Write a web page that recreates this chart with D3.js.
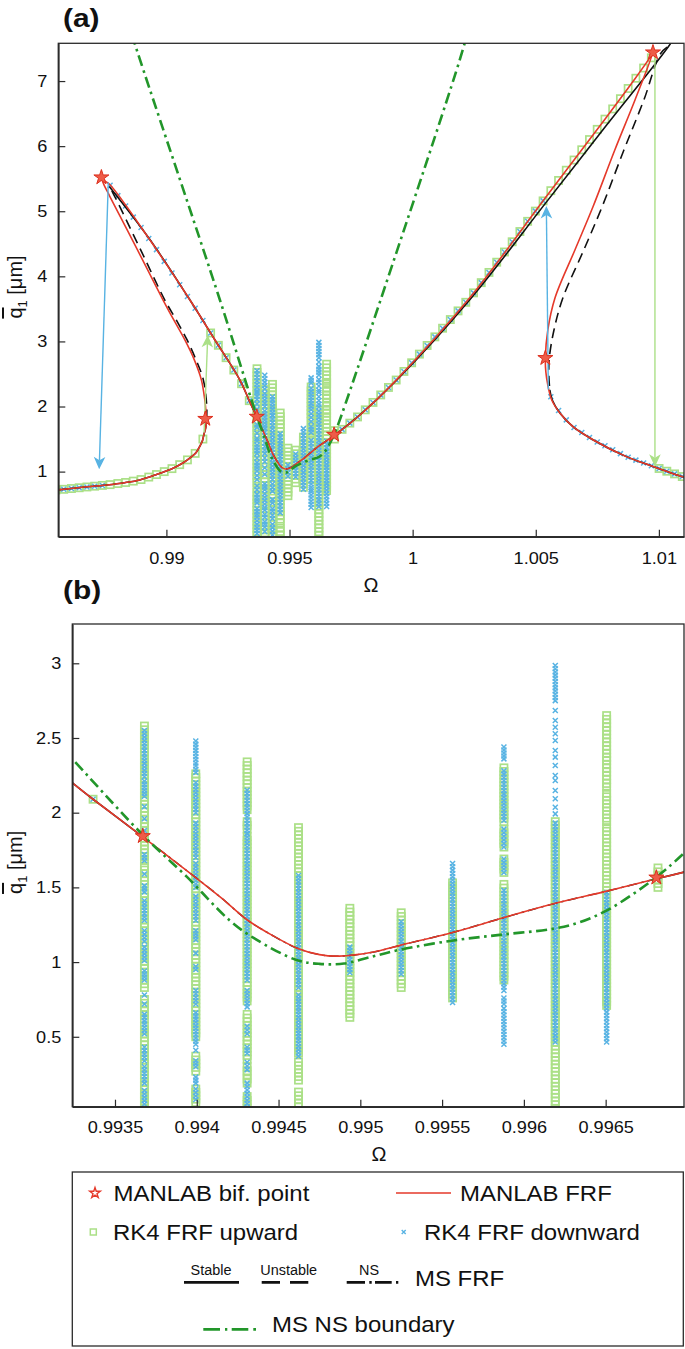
<!DOCTYPE html>
<html><head><meta charset="utf-8">
<script src="https://cdn.jsdelivr.net/npm/d3@7"></script>
<style>
body{margin:0;background:#fff}
svg{display:block}
text{font-family:"Liberation Sans",Arial,Helvetica,sans-serif;fill:#111}
</style>
</head><body>
<svg id="c" width="685" height="1349"></svg>
<script>
// ---------------- DATA ----------------
// tick labels
const xTicksA = [0.99, 0.995, 1, 1.005, 1.01];
const yTicksA = [1, 2, 3, 4, 5, 6, 7];
const xTicksB = [0.9935, 0.994, 0.9945, 0.995, 0.9955, 0.996, 0.9965];
const yTicksB = [0.5, 1, 1.5, 2, 2.5, 3];

// MANLAB FRF (continuation path, [Omega, q1])
const manlabFRF = [[0.98556,0.718],[0.98650,0.755],[0.98757,0.795],[0.98830,0.830],[0.98892,0.872],[0.98960,0.955],[0.99027,1.052],[0.99070,1.14],[0.99095,1.206],[0.99120,1.29],[0.99135,1.385],[0.99146,1.47],[0.99152,1.565],[0.99160,1.68],[0.99163,1.795],[0.99160,1.95],[0.99156,2.10],[0.99142,2.41],[0.99113,2.72],[0.99074,3.03],[0.99030,3.33],[0.98986,3.64],[0.98882,4.41],[0.98770,5.23],[0.98745,5.42],[0.98736,5.52],[0.98748,5.47],[0.98770,5.41],[0.98932,4.565],[0.99095,3.64],[0.99196,3.03],[0.99298,2.41],[0.99336,2.095],[0.99366,1.846],[0.99399,1.569],[0.99415,1.43],[0.994305,1.285],[0.99446,1.18],[0.99461,1.095],[0.99475,1.05],[0.99487,1.04],[0.99508,1.067],[0.995243,1.112],[0.99557,1.2],[0.995875,1.297],[0.996181,1.39],[0.996508,1.475],[0.99681,1.558],[0.99698,1.602],[0.99786,1.87],[0.99934,2.41],[1.00232,3.67],[1.00543,5.225],[1.00787,6.445],[1.00900,7.02],[1.00960,7.34],[1.00976,7.44],[1.00903,6.709],[1.00821,5.941],[1.00732,5.065],[1.00659,4.405],[1.00578,3.667],[1.00549,3.176],[1.00539,2.745],[1.00541,2.53],[1.00549,2.33],[1.00565,2.10],[1.00598,1.90],[1.00651,1.69],[1.00732,1.49],[1.00868,1.23],[1.00976,1.08],[1.01098,0.92],[1.0112,0.90]];

// MANLAB bifurcation points
const bifPoints = [[0.98736,5.52],[0.99158,1.81],[0.99367,1.843],[0.99681,1.566],[1.00539,2.745],[1.00976,7.44]];

// MS FRF branches
const msStableLowLeft = [[0.98556,0.718],[0.98650,0.755],[0.98757,0.795],[0.98830,0.830],[0.98892,0.872],[0.98960,0.955],[0.99027,1.052],[0.99070,1.14],[0.99095,1.206],[0.99120,1.29],[0.99135,1.385],[0.99146,1.47],[0.99152,1.565],[0.99160,1.68],[0.99163,1.80]];
const msUnstableLeft = [[0.99163,1.80],[0.99164,2.0],[0.99150,2.41],[0.99120,2.72],[0.99083,3.03],[0.99040,3.33],[0.98993,3.64],[0.98895,4.41],[0.98783,5.28],[0.98768,5.38]];
const msStableUpLeft = [[0.98768,5.38],[0.98932,4.57],[0.99095,3.64],[0.99196,3.03],[0.99298,2.41],[0.99336,2.095],[0.99366,1.846]];
const msNS = [[0.99366,1.846],[0.99399,1.569],[0.99415,1.43],[0.994305,1.285],[0.99446,1.18],[0.99461,1.095],[0.99475,1.05],[0.99487,1.04],[0.99508,1.067],[0.995243,1.112],[0.99557,1.2],[0.995875,1.297],[0.996181,1.39],[0.996508,1.475],[0.99681,1.558]];
const msStableUpRight = [[0.99681,1.558],[0.99698,1.602],[0.99786,1.87],[0.99934,2.40],[1.00232,3.64],[1.00543,5.14],[1.00787,6.32],[1.01048,7.58],[1.01068,7.72]];
const msUnstableRight = [[1.01068,7.72],[1.01053,7.585],[1.01008,7.427],[1.00939,6.709],[1.00858,5.941],[1.00769,5.065],[1.00695,4.405],[1.00610,3.667],[1.00574,3.176],[1.00555,2.745],[1.00553,2.484],[1.00557,2.254]];
const msStableLowRight = [[1.00557,2.254],[1.00567,2.10],[1.00598,1.90],[1.00651,1.69],[1.00732,1.49],[1.00868,1.23],[1.00976,1.08],[1.01098,0.92],[1.0112,0.90]];

// MS NS boundary
const msNSBoundary = [[0.98860,7.72],[0.98871,7.58],[0.99217,3.64],[0.993239,2.36],[0.99368,1.84],[0.99394,1.57],[0.99420,1.28],[0.99435,1.16],[0.99461,1.014],[0.99475,0.988],[0.99490,0.990],[0.99505,1.03],[0.995243,1.083],[0.99557,1.145],[0.995875,1.185],[0.996181,1.223],[0.996345,1.268],[0.996508,1.346],[0.99667,1.457],[0.99681,1.569],[0.99698,1.73],[0.9987,3.64],[1.00211,7.58],[1.00218,7.72]];

// RK4 upward sweep (periodic points)
const rk4UpLowLeft = [[0.985516,0.717],[0.98583,0.728],[0.986144,0.740],[0.986458,0.752],[0.986772,0.764],[0.987086,0.776],[0.9874,0.788],[0.987714,0.800],[0.988028,0.817],[0.988342,0.833],[0.988656,0.854],[0.98897,0.878],[0.989284,0.916],[0.989598,0.955],[0.989912,1.000],[0.990226,1.046],[0.99054,1.107],[0.990854,1.180],[0.991168,1.280],[0.991482,1.500]];
const rk4UpUpperLeft = [[0.991796,3.13],[0.99211,2.94],[0.992424,2.75],[0.992738,2.56],[0.993052,2.35],[0.993366,2.09]];
const rk4UpUpperRight = [[0.997134,1.649],[0.997448,1.745],[0.997762,1.840],[0.998076,1.949],[0.99839,2.063],[0.998704,2.178],[0.999018,2.293],[0.999332,2.407],[0.999646,2.539],[0.99996,2.672],[1.000274,2.805],[1.000588,2.938],[1.000902,3.070],[1.001216,3.203],[1.00153,3.336],[1.001844,3.469],[1.002158,3.601],[1.002472,3.746],[1.002786,3.903],[1.0031,4.060],[1.003414,4.217],[1.003728,4.374],[1.004042,4.531],[1.004356,4.688],[1.00467,4.845],[1.004984,5.002],[1.005298,5.159],[1.005612,5.316],[1.005926,5.473],[1.00624,5.630],[1.006554,5.787],[1.006868,5.944],[1.007182,6.101],[1.007496,6.258],[1.00781,6.415],[1.008124,6.572],[1.008438,6.729],[1.008752,6.886],[1.009066,7.043],[1.00938,7.200],[1.009694,7.357]];
const rk4UpLowRight = [[1.010008,1.048],[1.010322,1.006],[1.010636,0.965],[1.01095,0.924]];

// RK4 downward sweep (periodic points)
const rk4DownLowRight = [[1.01095,0.924],[1.010636,0.965],[1.010322,1.006],[1.010008,1.048],[1.009694,1.089],[1.00938,1.133],[1.009066,1.176],[1.008752,1.220],[1.008438,1.276],[1.008124,1.336],[1.00781,1.396],[1.007496,1.456],[1.007182,1.524],[1.006868,1.602],[1.006554,1.679],[1.00624,1.795],[1.005926,1.939],[1.005612,2.150]];
const rk4DownUpperRight = [[1.005298,5.159],[1.004984,5.002],[1.00467,4.845],[1.004356,4.688],[1.004042,4.531],[1.003728,4.374],[1.003414,4.217],[1.0031,4.060],[1.002786,3.903],[1.002472,3.746],[1.002158,3.601],[1.001844,3.469],[1.00153,3.336],[1.001216,3.203],[1.000902,3.070],[1.000588,2.938],[1.000274,2.805],[0.99996,2.672],[0.999646,2.539],[0.999332,2.407],[0.999018,2.293],[0.998704,2.178],[0.99839,2.063],[0.998076,1.949],[0.997762,1.840],[0.997448,1.745],[0.997134,1.649]];
const rk4DownUpperLeft = [[0.993366,2.09],[0.993052,2.35],[0.992738,2.56],[0.992424,2.75],[0.99211,2.94],[0.991796,3.13],[0.991482,3.32],[0.991168,3.51],[0.990854,3.69],[0.99054,3.87],[0.990226,4.05],[0.989912,4.23],[0.989598,4.41],[0.989284,4.58],[0.98897,4.75],[0.988656,4.91],[0.988342,5.08],[0.988028,5.24],[0.987714,5.40]];
const rk4DownLowLeft = [[0.9874,0.788],[0.987086,0.776],[0.986772,0.764],[0.986458,0.752],[0.986144,0.740],[0.98583,0.728],[0.985516,0.717]];

// RK4 quasi-periodic (NS) region: [Omega, q low, q high] ranges of sampled amplitudes
const rk4UpBands = [
  [0.99368,1.68,2.58],[0.99368,1.52,1.64],[0.99368,0.83,1.46],[0.99368,0.62,0.75],[0.99368,0.02,0.57],
  [0.993994,0.50,2.26],[0.993994,0.27,0.37],[0.993994,0.06,0.15],
  [0.994308,2.02,2.34],[0.994308,1.89,1.94],[0.994308,0.74,1.84],[0.994308,0.35,0.65],[0.994308,0.19,0.30],[0.994308,0.02,0.10],
  [0.994622,0.81,1.90],[0.994622,0.39,0.78],[0.994622,0.21,0.33],[0.994622,0.03,0.13],
  [0.994936,0.63,1.36],
  [0.99525,0.83,1.33],
  [0.995564,0.76,1.53],
  [0.995878,1.94,2.30],[0.995878,1.77,1.89],[0.995878,1.60,1.69],[0.995878,0.88,1.52],
  [0.996192,0.02,1.94],
  [0.996506,2.37,2.65],[0.996506,2.17,2.35],[0.996506,1.94,2.13],[0.996506,0.71,1.90],
  [0.99682,1.50,1.63]
];
const rk4DownBands = [
  [0.99368,2.24,2.55],[0.99368,2.11,2.21],[0.99368,2.04,2.04],[0.99368,1.96,1.96],[0.99368,1.88,1.88],[0.99368,1.68,1.72],[0.99368,1.59,1.59],[0.99368,1.47,1.51],[0.99368,1.28,1.41],[0.99368,1.14,1.21],[0.99368,1.01,1.10],[0.99368,0.88,0.94],[0.99368,0.78,0.78],[0.99368,0.72,0.72],[0.99368,0.52,0.65],[0.99368,0.34,0.43],[0.99368,0.19,0.30],[0.99368,0.05,0.14],
  [0.993994,2.27,2.48],[0.993994,2.00,2.20],[0.993994,1.70,1.93],[0.993994,1.50,1.66],[0.993994,1.28,1.44],[0.993994,1.15,1.21],[0.993994,1.06,1.06],[0.993994,0.95,0.97],[0.993994,0.72,0.81],[0.993994,0.45,0.66],[0.993994,0.41,0.41],[0.993994,0.30,0.34],[0.993994,0.19,0.23],[0.993994,0.08,0.15],
  [0.994308,1.86,2.15],[0.994308,0.88,1.86],[0.994308,0.70,0.81],[0.994308,0.52,0.57],[0.994308,0.39,0.43],[0.994308,0.28,0.33],[0.994308,0.03,0.19],
  [0.994622,0.83,1.58],[0.994622,0.37,0.78],
  [0.994936,0.93,1.10],
  [0.99525,0.92,1.27],
  [0.995564,0.73,1.66],
  [0.995878,2.36,2.44],[0.995878,1.95,2.28],[0.995878,1.77,1.89],[0.995878,1.60,1.69],[0.995878,0.81,1.48],[0.995878,0.72,0.76],[0.995878,0.45,0.69],
  [0.996192,2.75,2.985],[0.996192,2.684,2.684],[0.996192,2.617,2.617],[0.996192,2.572,2.572],[0.996192,2.528,2.528],[0.996192,2.483,2.483],[0.996192,2.416,2.416],[0.996192,2.372,2.372],[0.996192,2.316,2.316],[0.996192,2.249,2.249],[0.996192,2.216,2.216],[0.996192,2.149,2.149],[0.996192,2.093,2.093],[0.996192,2.037,2.037],[0.996192,1.992,1.992],[0.996192,0.465,1.93],
  [0.996506,0.465,1.465],
  [0.99682,1.565,1.565]
];

// jump arrows [Omega start, q start, Omega tip, q tip]
const blueArrows = [[0.98764,5.44,0.98727,1.035],[1.00551,2.26,1.00543,5.08]];
const greenArrows = [[0.99153,1.60,0.99168,3.10],[1.00984,7.40,1.00984,1.075]];

// ---------------- STYLE ----------------
const C = {
  red: "#e5392a", black: "#111111", nsGreen: "#22962a",
  sq: "#abe087", x: "#58b3e3", axis: "#2b2b2b"
};
const SX = 1.1;
const svg = d3.select("#c");
const defs = svg.append("defs");

function stretchText(sel, sx) {
  sel.each(function () {
    const t = d3.select(this);
    const x = +t.attr("x") || 0;
    t.attr("x", 0).attr("transform", `translate(${x},0) scale(${sx},1)`);
  });
}

function drawPanel(cfg) {
  const { id, x, y, xt, yt, xfmt, xpad } = cfg;
  const [x0, x1] = x.range(); const [y0, y1] = y.range();
  defs.append("clipPath").attr("id", "clip" + id)
    .append("rect").attr("x", x0).attr("y", y1).attr("width", x1 - x0).attr("height", y0 - y1);
  const g = svg.append("g").attr("clip-path", `url(#clip${id})`);

  const bandPts = (bands, step) => {
    const out = [];
    bands.forEach(b => {
      const px = x(b[0]), yt0 = y(b[2]), yb0 = y(b[1]);
      const n = Math.round((yb0 - yt0) / step);
      if (n <= 0) { out.push([px, (yt0 + yb0) / 2]); return; }
      for (let i = 0; i <= n; i++) out.push([px, yt0 + i * (yb0 - yt0) / n]);
    });
    return out;
  };

  // green squares (upward sweep)
  const sqPts = [];
  [rk4UpLowLeft, rk4UpUpperLeft, rk4UpUpperRight, rk4UpLowRight].forEach(a => a.forEach(d => sqPts.push([x(d[0]), y(d[1])])));
  bandPts(rk4UpBands, 3.7).forEach(p => sqPts.push(p));
  g.append("g").selectAll("rect").data(sqPts).join("rect")
    .attr("x", d => d[0] - 3.6).attr("y", d => d[1] - 3.6).attr("width", 7.2).attr("height", 7.2)
    .attr("fill", "none").attr("stroke", C.sq).attr("stroke-width", 1.7);

  // blue crosses (downward sweep)
  const xPts = [];
  [rk4DownLowRight, rk4DownUpperRight, rk4DownUpperLeft, rk4DownLowLeft].forEach(a => a.forEach(d => xPts.push([x(d[0]), y(d[1])])));
  bandPts(rk4DownBands, 3.3).forEach(p => xPts.push(p));
  const h = 2.5;
  g.append("g").selectAll("path").data(xPts).join("path")
    .attr("d", d => `M${d[0] - h},${d[1] - h}L${d[0] + h},${d[1] + h}M${d[0] - h},${d[1] + h}L${d[0] + h},${d[1] - h}`)
    .attr("stroke", C.x).attr("stroke-width", 1.5).attr("fill", "none");

  const line = d3.line().x(d => x(d[0])).y(d => y(d[1])).curve(d3.curveCatmullRom.alpha(0.5));
  const addLine = (data, color, w, dash) => g.append("path").datum(data).attr("d", line)
    .attr("fill", "none").attr("stroke", color).attr("stroke-width", w)
    .attr("stroke-dasharray", dash || null).attr("stroke-linejoin", "round");

  // MS FRF (black)
  [msStableLowLeft, msStableUpLeft, msStableUpRight, msStableLowRight].forEach(d => addLine(d, C.black, 1.6));
  [msUnstableLeft, msUnstableRight].forEach(d => addLine(d, C.black, 1.6, "10,6"));
  addLine(msNS, C.black, 1.4, "10,4,2.5,4");
  // MANLAB FRF (red)
  addLine(manlabFRF, C.red, 1.6);
  // MS NS boundary (green dash-dot)
  addLine(msNSBoundary, C.nsGreen, 2.6, "11,4.5,2.6,4.5");

  // arrows
  const arrow = (a, color) => {
    const ax1 = x(a[0]), ay1 = y(a[1]), ax2 = x(a[2]), ay2 = y(a[3]);
    const dx = ax2 - ax1, dy = ay2 - ay1, L = Math.hypot(dx, dy), ux = dx / L, uy = dy / L, nx = -uy, ny = ux;
    const hl = 12.5, hw = 5.8, notch = 3.5;
    g.append("line").attr("x1", ax1).attr("y1", ay1).attr("x2", ax2 - ux * (hl - notch)).attr("y2", ay2 - uy * (hl - notch))
      .attr("stroke", color).attr("stroke-width", 1.4);
    g.append("path").attr("d", `M${ax2},${ay2}L${ax2 - ux * hl + nx * hw},${ay2 - uy * hl + ny * hw}L${ax2 - ux * (hl - notch)},${ay2 - uy * (hl - notch)}L${ax2 - ux * hl - nx * hw},${ay2 - uy * hl - ny * hw}Z`)
      .attr("fill", color);
  };
  blueArrows.forEach(a => arrow(a, C.x));
  greenArrows.forEach(a => arrow(a, C.sq));

  // bifurcation stars
  const star = d3.symbol(d3.symbolStar, 70);
  g.append("g").selectAll("path").data(bifPoints).join("path")
    .attr("d", star).attr("transform", d => `translate(${x(d[0])},${y(d[1])})`)
    .attr("fill", "#ee5c48").attr("stroke", "#dd2f1d").attr("stroke-width", 1);

  // frame
  svg.append("rect").attr("x", x0).attr("y", y1).attr("width", x1 - x0).attr("height", y0 - y1)
    .attr("fill", "none").attr("stroke", C.axis).attr("stroke-width", 1.3);

  // axes
  const gx = svg.append("g").attr("transform", `translate(0,${y0})`)
    .call(d3.axisBottom(x).tickValues(xt).tickFormat(xfmt).tickSizeInner(-7).tickSizeOuter(0).tickPadding(xpad));
  const gy = svg.append("g").attr("transform", `translate(${x0},0)`)
    .call(d3.axisLeft(y).tickValues(yt).tickFormat(d => String(d)).tickSizeInner(-7).tickSizeOuter(0).tickPadding(11));
  [gx, gy].forEach(a => {
    a.select(".domain").attr("stroke", C.axis).attr("stroke-width", 1.7);
    a.selectAll(".tick line").attr("stroke", C.axis).attr("stroke-width", 1.2);
    a.selectAll(".tick text").attr("font-size", 16.5).attr("font-family", '"Liberation Sans",Arial,sans-serif').attr("fill", "#111");
  });
  gx.selectAll(".tick text").attr("transform", `scale(${SX},1)`);
  stretchText(gy.selectAll(".tick text"), SX);

  // axis titles
  svg.append("text").attr("transform", `translate(${cfg.omegaX},${cfg.omegaY})`)
    .attr("text-anchor", "middle").attr("font-size", 20).attr("font-family", '"Liberation Serif",serif').text("Ω");
  const yl = svg.append("text").attr("transform", `translate(22,${(y0 + y1) / 2 - 3}) rotate(-90)`)
    .attr("text-anchor", "middle").attr("font-size", 20);
  yl.append("tspan").style("text-decoration", "overline").text("q");
  yl.append("tspan").attr("font-size", 13).attr("dy", 5).text("1");
  yl.append("tspan").attr("dy", -5).text(" [μm]");

  // panel label
  svg.append("text").attr("transform", `translate(63,${cfg.labelY}) scale(1.15,1)`)
    .attr("font-size", 26).attr("font-weight", "bold").text(`(${id})`);
}

const fmt3 = d => String(+d.toFixed(4));
drawPanel({
  id: "a",
  x: d3.scaleLinear().domain([0.98561, 1.01102]).range([58.3, 684]),
  y: d3.scaleLinear().domain([0, 7.58]).range([536.7, 43.3]),
  xt: xTicksA, yt: yTicksA, xfmt: fmt3, xpad: 16, omegaX: 371, omegaY: 592, labelY: 27
});
drawPanel({
  id: "b",
  x: d3.scaleLinear().domain([0.993239, 0.996979]).range([72.3, 684]),
  y: d3.scaleLinear().domain([0.032, 3.263]).range([1106.7, 624]),
  xt: xTicksB, yt: yTicksB, xfmt: fmt3, xpad: 15, omegaX: 379, omegaY: 1160.5, labelY: 599
});

// ---------------- LEGEND ----------------
const lg = svg.append("g");
lg.append("rect").attr("x", 72.3).attr("y", 1172).attr("width", 611).attr("height", 174)
  .attr("fill", "#fff").attr("stroke", C.axis).attr("stroke-width", 1.3);
const ltext = (x, y, s, fs = 22, sx = 1.09) => lg.append("text").attr("transform", `translate(${x},${y}) scale(${sx},1)`)
  .attr("font-size", fs).text(s);
// row 1
lg.append("path").attr("d", d3.symbol(d3.symbolStar, 34)).attr("transform", "translate(95,1193)")
  .attr("fill", "none").attr("stroke", C.red).attr("stroke-width", 1.4);
ltext(113.5, 1201, "MANLAB bif. point");
lg.append("line").attr("x1", 396).attr("x2", 451).attr("y1", 1193).attr("y2", 1193).attr("stroke", C.red).attr("stroke-width", 1.6);
ltext(460, 1201, "MANLAB FRF");
// row 2
lg.append("rect").attr("x", 90.3).attr("y", 1229).attr("width", 6).attr("height", 6).attr("fill", "none").attr("stroke", C.sq).attr("stroke-width", 1.5);
ltext(113, 1239.5, "RK4 FRF upward");
lg.append("path").attr("d", "M401.7,1230L405.7,1234M401.7,1234L405.7,1230").attr("stroke", C.x).attr("stroke-width", 1.4);
ltext(424, 1239.5, "RK4 FRF downward");
// row 3
const stxt = (cx, s) => lg.append("text").attr("transform", `translate(${cx},1275) scale(1.03,1)`).attr("text-anchor", "middle").attr("font-size", 14).text(s);
stxt(211, "Stable"); stxt(288.7, "Unstable"); stxt(369, "NS");
lg.append("line").attr("x1", 184).attr("x2", 239).attr("y1", 1282.3).attr("y2", 1282.3).attr("stroke", C.black).attr("stroke-width", 2.7);
lg.append("line").attr("x1", 261.7).attr("x2", 308.3).attr("y1", 1282.3).attr("y2", 1282.3).attr("stroke", C.black).attr("stroke-width", 2.7).attr("stroke-dasharray", "18.3,10");
lg.append("line").attr("x1", 346.7).attr("x2", 398.3).attr("y1", 1282.3).attr("y2", 1282.3).attr("stroke", C.black).attr("stroke-width", 2.7).attr("stroke-dasharray", "18.3,4.3,2.4,3.3,16.7,4.3,2.4");
ltext(415, 1286, "MS FRF");
// row 4
lg.append("line").attr("x1", 203.3).attr("x2", 256).attr("y1", 1329.3).attr("y2", 1329.3).attr("stroke", C.nsGreen).attr("stroke-width", 2.7).attr("stroke-dasharray", "16.7,5,2.3,4.4,16.6,5,2.7");
ltext(272, 1331.5, "MS NS boundary");
</script>
</body></html>
